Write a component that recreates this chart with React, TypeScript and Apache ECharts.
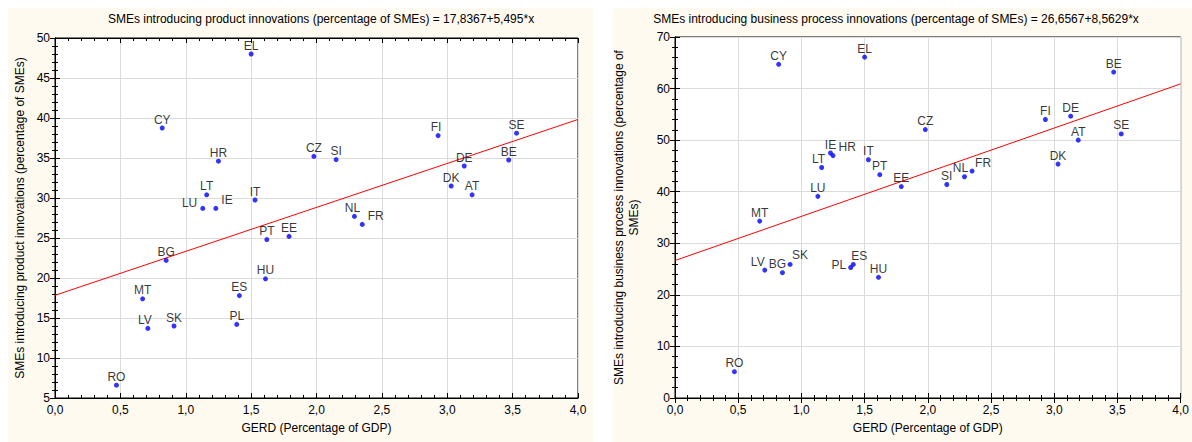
import React, { useEffect, useRef } from "react";
import * as echarts from "echarts";

const COUNTRIES = ["AT", "BE", "BG", "CY", "CZ", "DE", "DK", "EE", "EL", "ES", "FI", "FR", "HR", "HU", "IE", "IT", "LT", "LU", "LV", "MT", "NL", "PL", "PT", "RO", "SE", "SI", "SK"];
const GERD = [3.19, 3.47, 0.85, 0.82, 1.98, 3.13, 3.03, 1.79, 1.5, 1.41, 2.93, 2.35, 1.25, 1.61, 1.23, 1.53, 1.16, 1.13, 0.71, 0.67, 2.29, 1.39, 1.62, 0.47, 3.53, 2.15, 0.91];
const PRODUCT = [30.4, 34.75, 22.2, 38.75, 35.2, 34.0, 31.5, 25.2, 48.0, 17.8, 37.8, 26.7, 34.6, 19.9, 28.7, 29.75, 30.4, 28.7, 13.7, 17.4, 27.7, 14.2, 24.8, 6.6, 38.1, 34.8, 14.0];
const PROCESS = [50.0, 63.2, 24.3, 64.7, 52.05, 54.65, 45.35, 41.0, 66.1, 25.9, 54.0, 44.0, 47.0, 23.4, 47.5, 46.2, 44.7, 39.1, 24.8, 34.3, 42.9, 25.3, 43.3, 5.1, 51.2, 41.4, 25.9];

const PRODUCT_FIT = { intercept: 17.8367, slope: 5.495 };
const PROCESS_FIT = { intercept: 26.6567, slope: 8.5629 };

const X_RANGE = [0, 4];

const TITLE_LEFT = "SMEs introducing product innovations (percentage of SMEs) = 17,8367+5,495*x";
const TITLE_RIGHT = "SMEs introducing business process innovations (percentage of SMEs) = 26,6567+8,5629*x";
const X_NAME = "GERD (Percentage of GDP)";
const Y_NAME_LEFT = "SMEs introducing product innovations (percentage of SMEs)";
const Y_NAME_RIGHT = "SMEs introducing business process innovations (percentage of\nSMEs)";

const FONT = "'Liberation Sans', Arial, sans-serif";

const LEFT_LABELS: Record<string, any> = {
  LU: { position: "left", offset: [0, -5], distance: 3 },
  IE: { position: "right", offset: [0, -8], distance: 3 },
  FR: { position: "right", offset: [0, -8], distance: 3 },
  LV: { offset: [-3, 0] },
  NL: { offset: [-2, 0] },
  FI: { offset: [-2, 0] },
};
const RIGHT_LABELS: Record<string, any> = {
  HR: { position: "right", offset: [0, -9], distance: 3 },
  PL: { position: "left", offset: [0, -3], distance: 2 },
  LV: { offset: [-7, 0] },
  SK: { offset: [10, -1] },
  ES: { offset: [6, 0] },
  FR: { offset: [11, 0] },
  NL: { offset: [-4, 0] },
  LT: { offset: [-3, 0] },
  BG: { offset: [-5, 0] },
};

function buildPoints(values: number[], labels: Record<string, any>) {
  return COUNTRIES.map((c, i) => {
    const item: any = { name: c, value: [GERD[i], values[i]] };
    if (labels[c]) item.label = labels[c];
    return item;
  });
}

function fitLine(fit: { intercept: number; slope: number }) {
  return X_RANGE.map((x) => [x, fit.intercept + fit.slope * x]);
}

const fmtX = (v: number) => v.toFixed(1).replace(".", ",");

function xAxes(gridIndex: number) {
  const common = {
    gridIndex,
    type: "value",
    min: 0,
    max: 4,
    interval: 0.5,
    axisLine: { show: true, lineStyle: { color: "#000", width: 1 } },
    axisTick: { show: true, inside: true, length: 5, lineStyle: { color: "#000" } },
    minorTick: { show: true, splitNumber: 5, length: 3, lineStyle: { color: "#000" } },
  };
  return [
    {
      ...common,
      position: "bottom",
      name: X_NAME,
      nameLocation: "middle",
      nameGap: 24,
      nameTextStyle: { color: "#000", fontSize: 12, fontFamily: FONT },
      axisLabel: { color: "#000", fontSize: 12, fontFamily: FONT, margin: 6, formatter: fmtX },
      splitLine: { show: true, lineStyle: { color: "#dcdcdc", width: 1 } },
    },
    {
      ...common,
      position: "top",
      axisLabel: { show: false },
      splitLine: { show: false },
    },
  ];
}

function yAxes(gridIndex: number, min: number, max: number, interval: number, name: string, nameGap: number) {
  const common = {
    gridIndex,
    type: "value",
    min,
    max,
    interval,
    axisLine: { show: true, lineStyle: { color: "#000", width: 1 } },
    axisTick: { show: true, inside: true, length: 5, lineStyle: { color: "#000" } },
    minorTick: { show: true, splitNumber: 5, length: 3, lineStyle: { color: "#000" } },
  };
  return [
    {
      ...common,
      position: "left",
      name,
      nameLocation: "middle",
      nameGap,
      nameTextStyle: { color: "#000", fontSize: 12, fontFamily: FONT, lineHeight: 15 },
      axisLabel: { color: "#000", fontSize: 12, fontFamily: FONT, margin: 5 },
      splitLine: { show: true, lineStyle: { color: "#dcdcdc", width: 1 } },
    },
    {
      ...common,
      position: "right",
      axisLabel: { show: false },
      splitLine: { show: false },
    },
  ];
}

const pointSeries = (idx: number, values: number[], labels: Record<string, any>) => ({
  type: "scatter",
  xAxisIndex: idx * 2,
  yAxisIndex: idx * 2,
  symbol: "circle",
  symbolSize: 5,
  itemStyle: { color: "#0000ff" },
  label: {
    show: true,
    position: "top",
    distance: 0,
    formatter: "{b}",
    color: "#000",
    fontSize: 12,
    fontFamily: FONT,
  },
  data: buildPoints(values, labels),
  z: 3,
});

const lineSeries = (idx: number, fit: { intercept: number; slope: number }) => ({
  type: "line",
  xAxisIndex: idx * 2,
  yAxisIndex: idx * 2,
  showSymbol: false,
  symbol: "none",
  lineStyle: { color: "#ff0000", width: 1 },
  data: fitLine(fit),
  z: 2,
  silent: true,
});

export default function App() {
  const ref = useRef<HTMLDivElement>(null);
  useEffect(() => {
    document.body.style.margin = "0";
    const chart = echarts.init(ref.current!, null, { renderer: "svg" });
    chart.setOption({
      animation: false,
      backgroundColor: "#ffffff",
      textStyle: { fontFamily: FONT },
      graphic: [
        { type: "rect", z: -100, silent: true, shape: { x: 8, y: 8, width: 585, height: 434 }, style: { fill: "#fffaf0" } },
        { type: "rect", z: -100, silent: true, shape: { x: 613, y: 8, width: 579, height: 434 }, style: { fill: "#fffaf0" } },
      ],
      title: [
        { text: TITLE_LEFT, left: 316, top: 8, textAlign: "center", textStyle: { fontSize: 12, fontWeight: "normal", color: "#000", fontFamily: FONT } },
        { text: TITLE_RIGHT, left: 891, top: 8, textAlign: "center", textStyle: { fontSize: 12, fontWeight: "normal", color: "#000", fontFamily: FONT } },
      ],
      grid: [
        { left: 55, top: 38, width: 523, height: 360, show: true, backgroundColor: "#ffffff", borderColor: "#000", borderWidth: 1 },
        { left: 675, top: 37, width: 509, height: 361, show: true, backgroundColor: "#ffffff", borderColor: "#000", borderWidth: 1 },
      ],
      xAxis: [...xAxes(0), ...xAxes(1)],
      yAxis: [...yAxes(0, 5, 50, 5, Y_NAME_LEFT, 28), ...yAxes(1, 0, 70, 10, Y_NAME_RIGHT, 34)],
      series: [
        lineSeries(0, PRODUCT_FIT),
        pointSeries(0, PRODUCT, LEFT_LABELS),
        lineSeries(1, PROCESS_FIT),
        pointSeries(1, PROCESS, RIGHT_LABELS),
      ],
    });
    return () => chart.dispose();
  }, []);
  return <div ref={ref} style={{ width: 1192, height: 442 }} />;
}
